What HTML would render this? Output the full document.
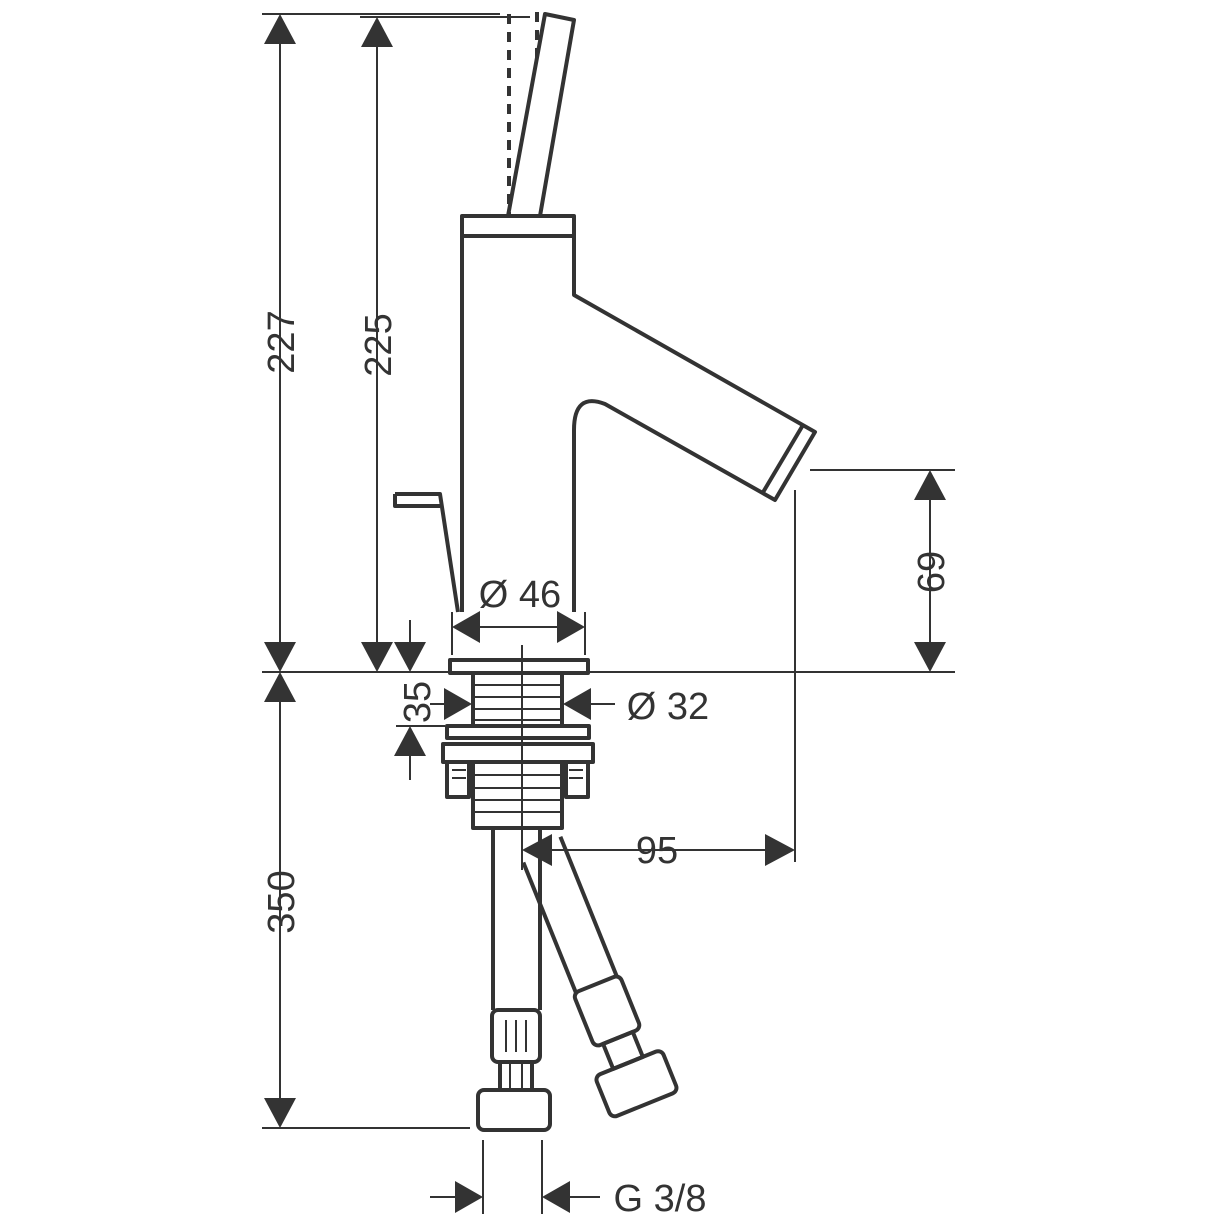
<!DOCTYPE html>
<html><head><meta charset="utf-8"><style>
html,body{margin:0;padding:0;background:#fff}
svg{display:block}
text{font-family:"Liberation Sans",sans-serif;font-size:38px;fill:#333}
</style></head><body>
<svg width="1214" height="1214" viewBox="0 0 1214 1214" xmlns="http://www.w3.org/2000/svg">
<g stroke="#333" fill="none" stroke-width="2">
<line x1="262" y1="14" x2="500" y2="14"/>
<line x1="360" y1="17" x2="530" y2="17"/>
<line x1="262" y1="672" x2="450" y2="672"/>
<line x1="588" y1="672" x2="955" y2="672"/>
<line x1="810" y1="470" x2="955" y2="470"/>
<line x1="262" y1="1128" x2="470" y2="1128"/>
<line x1="795" y1="490" x2="795" y2="862"/>
<line x1="452" y1="612" x2="452" y2="655"/>
<line x1="585" y1="612" x2="585" y2="655"/>
<line x1="483" y1="1140" x2="483" y2="1214"/>
<line x1="542" y1="1140" x2="542" y2="1214"/>
<line x1="396" y1="726" x2="445" y2="726"/>
<line x1="280" y1="40" x2="280" y2="645"/>
<line x1="377" y1="40" x2="377" y2="645"/>
<line x1="280" y1="700" x2="280" y2="1100"/>
<line x1="930" y1="495" x2="930" y2="645"/>
<line x1="478" y1="627" x2="560" y2="627"/>
<line x1="548" y1="850" x2="768" y2="850"/>
<line x1="410" y1="620" x2="410" y2="645"/>
<line x1="410" y1="752" x2="410" y2="780"/>
<line x1="430" y1="704" x2="445" y2="704"/>
<line x1="590" y1="704" x2="615" y2="704"/>
<line x1="430" y1="1197" x2="456" y2="1197"/>
<line x1="569" y1="1197" x2="600" y2="1197"/>
<line x1="522" y1="645" x2="522" y2="870"/>
</g>
<g fill="#333">
<polygon points="280,14 264,44 296,44"/>
<polygon points="280,672 264,642 296,642"/>
<polygon points="280,672 264,702 296,702"/>
<polygon points="280,1128 264,1098 296,1098"/>
<polygon points="377,17 361,47 393,47"/>
<polygon points="377,672 361,642 393,642"/>
<polygon points="930,470 914,500 946,500"/>
<polygon points="930,672 914,642 946,642"/>
<polygon points="452,627 480,611 480,643"/>
<polygon points="585,627 557,611 557,643"/>
<polygon points="410,672 394,642 426,642"/>
<polygon points="410,726 394,756 426,756"/>
<polygon points="472,704 444,688 444,720"/>
<polygon points="563,704 591,688 591,720"/>
<polygon points="522,850 552,834 552,866"/>
<polygon points="795,850 765,834 765,866"/>
<polygon points="483,1197 455,1181 455,1213"/>
<polygon points="542,1197 570,1181 570,1213"/>
</g>
<g stroke="#333" fill="none" stroke-width="4" stroke-linejoin="round">
<path d="M462,612 L462,216 L574,216 L574,295 L815,432 L775,500 L605,404 Q574,392 574,430 L574,612"/>
<line x1="462" y1="236" x2="574" y2="236"/>
<line x1="803" y1="425" x2="762" y2="494"/>
<path d="M508,216 L545,14 L574,20 L540,216"/>
<path d="M395,494 L440,494 L458,612" />
<path d="M395,494 L395,506 L440,506"/>
<rect x="450" y="660" width="138" height="13"/>
<rect x="473" y="673" width="89" height="53"/>
<rect x="447" y="726" width="142" height="12"/>
<rect x="443" y="744" width="150" height="18"/>
<rect x="473" y="762" width="89" height="66"/>
<rect x="447" y="762" width="22" height="35"/>
<rect x="566" y="762" width="22" height="35"/>
<line x1="493" y1="828" x2="493" y2="1010"/>
<line x1="540" y1="828" x2="540" y2="1010"/>
<rect x="492" y="1010" width="48" height="52" rx="6"/>
<rect x="500" y="1062" width="32" height="28"/>
<rect x="478" y="1090" width="72" height="40" rx="6"/>
<g transform="translate(540,845) rotate(-22)">
<line x1="-22" y1="10" x2="-22" y2="150"/>
<line x1="22" y1="0" x2="22" y2="150"/>
<rect x="-25" y="150" width="50" height="58" rx="6"/>
<rect x="-16" y="208" width="32" height="27"/>
<rect x="-36" y="235" width="72" height="45" rx="6"/>
</g>
</g>
<g stroke="#333" stroke-width="4" stroke-dasharray="10,8" fill="none">
<line x1="509" y1="14" x2="509" y2="214"/>
<line x1="537" y1="12" x2="537" y2="60"/>
</g>
<g stroke="#333" stroke-width="2">
<line x1="473" y1="685" x2="562" y2="685"/><line x1="473" y1="697" x2="562" y2="697"/>
<line x1="473" y1="709" x2="562" y2="709"/><line x1="473" y1="720" x2="562" y2="720"/>
<line x1="473" y1="775" x2="562" y2="775"/><line x1="473" y1="788" x2="562" y2="788"/>
<line x1="473" y1="800" x2="562" y2="800"/><line x1="473" y1="812" x2="562" y2="812"/>
<line x1="452" y1="770" x2="466" y2="770"/><line x1="452" y1="778" x2="466" y2="778"/>
<line x1="569" y1="770" x2="583" y2="770"/><line x1="569" y1="778" x2="583" y2="778"/>
<line x1="506" y1="1020" x2="506" y2="1052"/><line x1="516" y1="1020" x2="516" y2="1052"/><line x1="526" y1="1020" x2="526" y2="1052"/>
<line x1="510" y1="1062" x2="510" y2="1090"/><line x1="522" y1="1062" x2="522" y2="1090"/>
</g>
<text transform="translate(294,342) rotate(-90)" text-anchor="middle">227</text>
<text transform="translate(391,345) rotate(-90)" text-anchor="middle">225</text>
<text transform="translate(294,902) rotate(-90)" text-anchor="middle">350</text>
<text transform="translate(944,572) rotate(-90)" text-anchor="middle">69</text>
<text transform="translate(430,702) rotate(-90)" text-anchor="middle">35</text>
<text x="520" y="607" text-anchor="middle">Ø 46</text>
<text x="668" y="719" text-anchor="middle">Ø 32</text>
<text x="657" y="863" text-anchor="middle">95</text>
<text x="660" y="1211" text-anchor="middle">G 3/8</text>
</svg>
</body></html>
